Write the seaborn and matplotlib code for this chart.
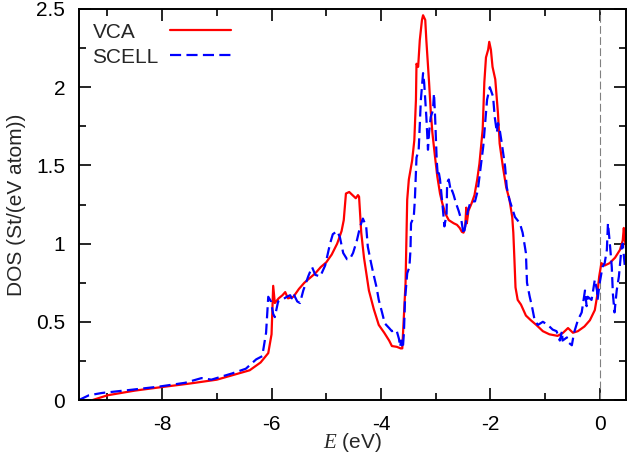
import numpy as np
import pandas as pd
import matplotlib
matplotlib.use('Agg')
import matplotlib.pyplot as plt
from matplotlib.ticker import MultipleLocator, FuncFormatter
import seaborn as sns

# ДАННЫЕ: плотность состояний

e_vca = [-9.27, -9.0, -8.5, -8.0, -7.5, -7.0, -6.7, -6.4, -6.2, -6.06,
         -6.0, -5.97, -5.94, -5.87, -5.80, -5.75, -5.70, -5.60, -5.50, -5.40,
         -5.30, -5.20, -5.10, -5.00, -4.90, -4.80, -4.72, -4.68, -4.64, -4.58,
         -4.52, -4.46, -4.42, -4.40, -4.36, -4.31, -4.22, -4.13, -4.04, -3.94,
         -3.85, -3.80, -3.71, -3.64, -3.61, -3.55, -3.52, -3.49, -3.43, -3.39,
         -3.36, -3.35, -3.32, -3.29, -3.25, -3.23, -3.19, -3.17, -3.12, -3.09,
         -3.06, -3.01, -2.97, -2.92, -2.88, -2.82, -2.76, -2.67, -2.61, -2.56,
         -2.52, -2.49, -2.46, -2.44, -2.43, -2.40, -2.34, -2.29, -2.24, -2.20,
         -2.17, -2.14, -2.11, -2.08, -2.04, -2.02, -1.99, -1.96, -1.91, -1.86,
         -1.83, -1.77, -1.71, -1.65, -1.60, -1.58, -1.56, -1.54, -1.50, -1.44,
         -1.35, -1.26, -1.16, -1.04, -0.92, -0.77, -0.67, -0.58, -0.49, -0.40,
         -0.28, -0.18, -0.09, -0.05, -0.01, 0.03, 0.09, 0.18, 0.28, 0.37,
         0.42, 0.44, 0.46, 0.48]
dos_vca = [0.0, 0.03, 0.06, 0.083, 0.105, 0.13, 0.16, 0.19, 0.24, 0.30,
           0.42, 0.73, 0.62, 0.65, 0.67, 0.69, 0.65, 0.66, 0.71, 0.75,
           0.78, 0.81, 0.85, 0.88, 0.93, 1.00, 1.08, 1.15, 1.32, 1.33,
           1.31, 1.29, 1.31, 1.30, 1.07, 0.91, 0.70, 0.58, 0.48, 0.43,
           0.38, 0.345, 0.34, 0.33, 0.33, 0.75, 1.28, 1.41, 1.53, 1.66,
           1.92, 2.15, 2.13, 2.30, 2.43, 2.46, 2.43, 2.30, 2.03, 1.85,
           1.71, 1.55, 1.43, 1.32, 1.26, 1.19, 1.15, 1.13, 1.12, 1.10,
           1.075, 1.07, 1.11, 1.23, 1.13, 1.21, 1.26, 1.31, 1.41, 1.51,
           1.62, 1.73, 2.03, 2.19, 2.24, 2.29, 2.24, 2.13, 2.05, 1.83,
           1.64, 1.49, 1.36, 1.28, 1.17, 1.07, 0.90, 0.72, 0.64, 0.61,
           0.54, 0.51, 0.48, 0.44, 0.42, 0.41, 0.43, 0.46, 0.43, 0.44,
           0.47, 0.51, 0.575, 0.66, 0.79, 0.875, 0.86, 0.875, 0.91, 0.96,
           1.02, 1.10, 1.02, 0.98]

e_scell = [-9.52, -9.34, -9.1, -8.57, -8.07, -7.58, -7.28, -7.1, -6.72, -6.47,
           -6.28, -6.17, -6.10, -6.06, -6.01, -5.97, -5.94, -5.88, -5.81, -5.72,
           -5.66, -5.63, -5.60, -5.53, -5.48, -5.42, -5.33, -5.26, -5.20, -5.11,
           -5.02, -4.93, -4.88, -4.80, -4.75, -4.69, -4.62, -4.57, -4.51, -4.44,
           -4.38, -4.33, -4.27, -4.24, -4.18, -4.14, -4.08, -4.04, -3.98, -3.93,
           -3.85, -3.80, -3.74, -3.71, -3.67, -3.65, -3.63, -3.60, -3.58, -3.56,
           -3.52, -3.48, -3.46, -3.45, -3.40, -3.38, -3.35, -3.31, -3.27, -3.23,
           -3.21, -3.17, -3.14, -3.12, -3.09, -3.05, -3.03, -3.01, -2.98, -2.96,
           -2.94, -2.92, -2.87, -2.84, -2.80, -2.79, -2.76, -2.72, -2.70, -2.67,
           -2.63, -2.58, -2.53, -2.49, -2.47, -2.45, -2.41, -2.36, -2.28, -2.23,
           -2.17, -2.13, -2.10, -2.06, -2.01, -1.99, -1.95, -1.92, -1.88, -1.86,
           -1.83, -1.79, -1.73, -1.70, -1.65, -1.55, -1.46, -1.41, -1.35, -1.33,
           -1.28, -1.24, -1.19, -1.13, -1.04, -0.95, -0.86, -0.79, -0.73, -0.69,
           -0.68, -0.60, -0.58, -0.51, -0.47, -0.40, -0.33, -0.27, -0.24, -0.22,
           -0.15, -0.13, -0.09, -0.05, -0.04, 0.0, 0.05, 0.09, 0.13, 0.15,
           0.18, 0.22, 0.24, 0.27, 0.31, 0.35, 0.40, 0.42, 0.46, 0.48]
dos_scell = [0.0, 0.03, 0.045, 0.065, 0.085, 0.11, 0.14, 0.13, 0.17, 0.20,
             0.26, 0.28, 0.43, 0.66, 0.63, 0.55, 0.53, 0.63, 0.64, 0.66,
             0.67, 0.65, 0.68, 0.63, 0.62, 0.70, 0.79, 0.85, 0.80, 0.79,
             0.86, 1.00, 1.06, 1.08, 1.04, 0.94, 0.90, 0.90, 0.94, 1.02,
             1.11, 1.16, 1.11, 0.98, 0.875, 0.81, 0.72, 0.64, 0.56, 0.49,
             0.46, 0.44, 0.45, 0.44, 0.39, 0.34, 0.38, 0.33, 0.43, 0.64,
             0.81, 0.85, 0.96, 1.13, 1.17, 1.28, 1.55, 1.60, 1.92, 2.09,
             2.03, 1.81, 1.60, 1.71, 1.81, 1.85, 1.96, 1.81, 1.53, 1.43,
             1.45, 1.41, 1.23, 1.11, 1.19, 1.39, 1.41, 1.33, 1.34, 1.31,
             1.26, 1.21, 1.15, 1.06, 1.09, 1.13, 1.21, 1.27, 1.27, 1.34,
             1.51, 1.62, 1.75, 1.92, 2.00, 1.98, 1.94, 1.81, 1.71, 1.77,
             1.73, 1.64, 1.49, 1.36, 1.28, 1.17, 1.13, 1.07, 0.94, 0.75,
             0.66, 0.60, 0.51, 0.48, 0.50, 0.48, 0.45, 0.44, 0.38, 0.44,
             0.38, 0.40, 0.37, 0.35, 0.43, 0.51, 0.56, 0.70, 0.60, 0.66,
             0.64, 0.68, 0.77, 0.70, 0.64, 0.75, 0.85, 0.875, 0.96, 1.13,
             1.02, 0.85, 0.68, 0.56, 0.70, 0.79, 0.98, 1.00, 0.85, 0.90]

labels = ['VCA', 'SCELL']
# _________________________________________________

sns.set_style('ticks')
plt.rcParams['font.family'] = ['Liberation Sans', 'DejaVu Sans']
plt.rcParams['axes.unicode_minus'] = False
plt.rcParams['mathtext.fontset'] = 'custom'
plt.rcParams['mathtext.it'] = 'Liberation Serif:italic'

FS = 15

fig = plt.figure(figsize=(6.28, 4.58), dpi=100)
ax = fig.add_axes([79 / 628, 58 / 458, 547 / 628, 391 / 458])

ax.axvline(0, color='#808080', lw=0.8, linestyle=(0, (7, 3)), zorder=1)

sns.lineplot(x=e_vca, y=dos_vca, ax=ax, color='#ff0000', lw=1.6,
             estimator=None, sort=False, label=labels[0])
sns.lineplot(x=e_scell, y=dos_scell, ax=ax, color='#0000ff', lw=1.6,
             linestyle=(0, (5.0, 2.4)), estimator=None, sort=False, label=labels[1])

ax.set_xlim(-9.52, 0.48)
ax.set_ylim(0, 2.5)

ax.xaxis.set_major_locator(MultipleLocator(2))
ax.xaxis.set_minor_locator(MultipleLocator(1))
ax.yaxis.set_major_locator(MultipleLocator(0.5))
ax.yaxis.set_minor_locator(MultipleLocator(0.25))
fmt = FuncFormatter(lambda v, p: '%g' % v)
ax.xaxis.set_major_formatter(fmt)
ax.yaxis.set_major_formatter(fmt)

ax.tick_params(which='both', direction='in', top=True, right=True,
               width=1.2, colors='black', labelsize=FS)
ax.tick_params(which='major', length=8.5)
ax.tick_params(which='minor', length=5)
ax.tick_params(axis='y', which='major', pad=10)
ax.tick_params(axis='x', which='major', pad=11)
for s in ax.spines.values():
    s.set_linewidth(1.4)
    s.set_color('black')

ax.set_xlabel(r'$E$ (eV)', fontsize=FS, labelpad=-2)
ax.set_ylabel('DOS (St/(eV atom))', fontsize=FS, labelpad=7)

# легенда как в gnuplot: подпись слева, образец линии справа
leg = ax.legend(loc='upper left', frameon=False, fontsize=FS, markerfirst=False,
                handlelength=2.9, handletextpad=0.55, labelspacing=0.3,
                borderaxespad=0.3, borderpad=0.35)
fig.canvas.draw()
r = fig.canvas.get_renderer()
widths = [t.get_window_extent(r).width for t in leg.get_texts()]
col = leg._legend_handle_box.get_children()[0]
for item, w in zip(col.get_children(), widths):
    item.sep += (max(widths) - w) * 72 / fig.dpi

plt.savefig('out.png', dpi=100)
